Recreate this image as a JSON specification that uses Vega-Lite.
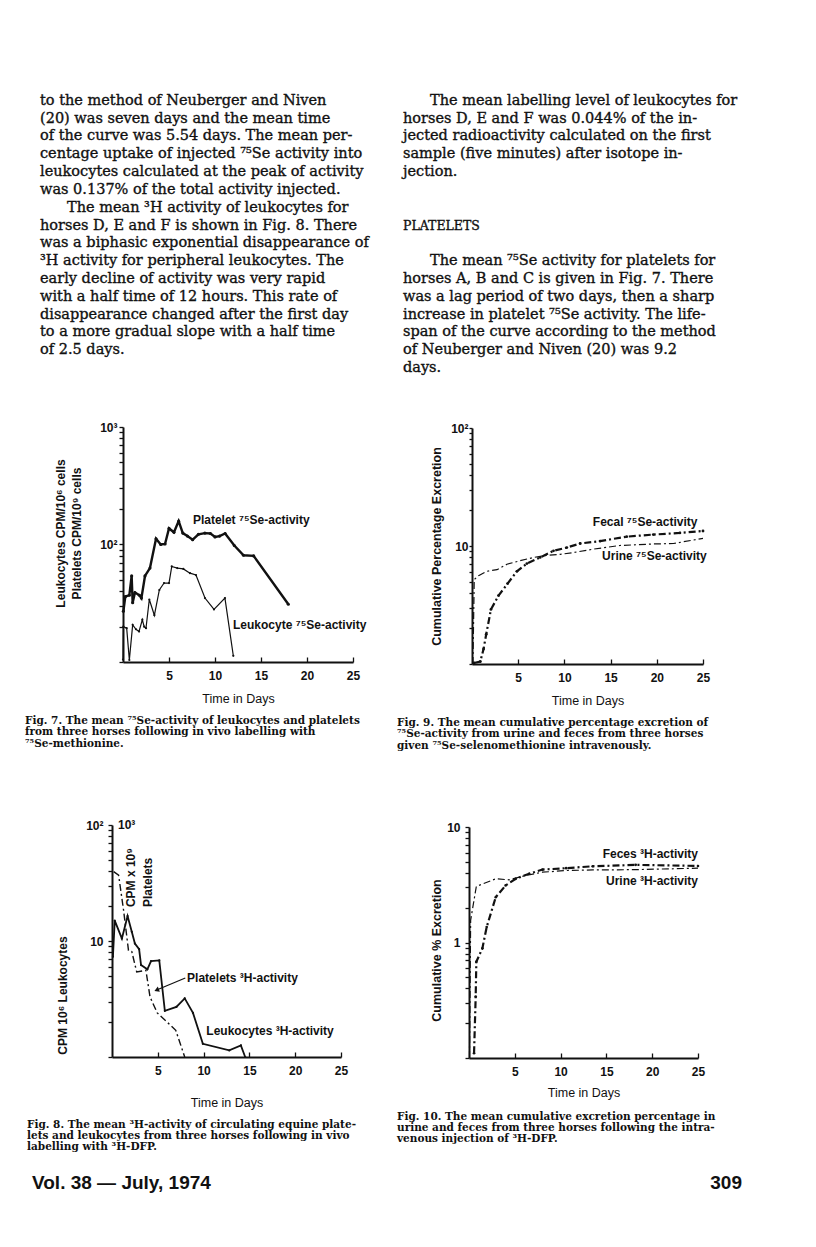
{
  "$schema": "https://vega.github.io/schema/vega-lite/v6.json",
  "background": "white",
  "autosize": {"type": "pad"},
  "padding": {"left": 25, "top": 83, "right": 10, "bottom": 10},
  "spacing": 0,
  "bounds": "flush",
  "config": {
    "view": {"stroke": null},
    "axis": {"grid": false, "domainColor": "#111", "tickColor": "#111", "labelColor": "#111", "titleColor": "#111", "labelFont": "Liberation Sans", "titleFont": "Liberation Sans", "labelFontSize": 12, "labelFontWeight": "bold", "titleFontSize": 12, "titleFontWeight": "bold", "domainWidth": 2, "tickWidth": 1.3, "labelFlush": false, "labelOverlap": false},
    "text": {"font": "Liberation Sans", "fontSize": 12, "fontWeight": "bold", "color": "#111"},
    "line": {"color": "#111"}
  },
  "vconcat": [
    {
      "width": 363, "height": 285,
      "data": {"values": [
        {"column": "left", "line": 0, "kind": "body", "indent": false, "text": "to the method of Neuberger and Niven"},
        {"column": "left", "line": 1, "kind": "body", "indent": false, "text": "(20) was seven days and the mean time"},
        {"column": "left", "line": 2, "kind": "body", "indent": false, "text": "of the curve was 5.54 days. The mean per-"},
        {"column": "left", "line": 3, "kind": "body", "indent": false, "text": "centage uptake of injected ⁷⁵Se activity into"},
        {"column": "left", "line": 4, "kind": "body", "indent": false, "text": "leukocytes calculated at the peak of activity"},
        {"column": "left", "line": 5, "kind": "body", "indent": false, "text": "was 0.137% of the total activity injected."},
        {"column": "left", "line": 6, "kind": "body", "indent": true, "text": "The mean ³H activity of leukocytes for"},
        {"column": "left", "line": 7, "kind": "body", "indent": false, "text": "horses D, E and F is shown in Fig. 8. There"},
        {"column": "left", "line": 8, "kind": "body", "indent": false, "text": "was a biphasic exponential disappearance of"},
        {"column": "left", "line": 9, "kind": "body", "indent": false, "text": "³H activity for peripheral leukocytes. The"},
        {"column": "left", "line": 10, "kind": "body", "indent": false, "text": "early decline of activity was very rapid"},
        {"column": "left", "line": 11, "kind": "body", "indent": false, "text": "with a half time of 12 hours. This rate of"},
        {"column": "left", "line": 12, "kind": "body", "indent": false, "text": "disappearance changed after the first day"},
        {"column": "left", "line": 13, "kind": "body", "indent": false, "text": "to a more gradual slope with a half time"},
        {"column": "left", "line": 14, "kind": "body", "indent": false, "text": "of 2.5 days."},
        {"column": "right", "line": 0, "kind": "body", "indent": true, "text": "The mean labelling level of leukocytes for"},
        {"column": "right", "line": 1, "kind": "body", "indent": false, "text": "horses D, E and F was 0.044% of the in-"},
        {"column": "right", "line": 2, "kind": "body", "indent": false, "text": "jected radioactivity calculated on the first"},
        {"column": "right", "line": 3, "kind": "body", "indent": false, "text": "sample (five minutes) after isotope in-"},
        {"column": "right", "line": 4, "kind": "body", "indent": false, "text": "jection."},
        {"column": "right", "line": 7, "kind": "head", "indent": false, "text": "PLATELETS"},
        {"column": "right", "line": 9, "kind": "body", "indent": true, "text": "The mean ⁷⁵Se activity for platelets for"},
        {"column": "right", "line": 10, "kind": "body", "indent": false, "text": "horses A, B and C is given in Fig. 7. There"},
        {"column": "right", "line": 11, "kind": "body", "indent": false, "text": "was a lag period of two days, then a sharp"},
        {"column": "right", "line": 12, "kind": "body", "indent": false, "text": "increase in platelet ⁷⁵Se activity. The life-"},
        {"column": "right", "line": 13, "kind": "body", "indent": false, "text": "span of the curve according to the method"},
        {"column": "right", "line": 14, "kind": "body", "indent": false, "text": "of Neuberger and Niven (20) was 9.2"},
        {"column": "right", "line": 15, "kind": "body", "indent": false, "text": "days."}
      ]},
      "encoding": {
        "x": {"field": "column", "type": "nominal", "scale": {"type": "point", "domain": ["left", "right"], "padding": 0}, "axis": null},
        "y": {"field": "line", "type": "quantitative", "scale": {"domain": [-1, 15], "reverse": true, "nice": false, "zero": false}, "axis": null},
        "text": {"field": "text"},
        "size": {"condition": {"test": "datum.kind === 'head'", "value": 12.5}, "value": 14.5}
      },
      "layer": [
        {
          "transform": [{"filter": "!datum.indent"}],
          "mark": {"type": "text", "align": "left", "baseline": "middle", "font": "DejaVu Serif", "fontWeight": "normal", "color": "#111", "stroke": "#111", "strokeWidth": 0.35}
        },
        {
          "transform": [{"filter": "datum.indent"}],
          "mark": {"type": "text", "align": "left", "baseline": "middle", "dx": 27, "font": "DejaVu Serif", "fontWeight": "normal", "color": "#111", "stroke": "#111", "strokeWidth": 0.35}
        }
      ]
    },
    {"width": 1, "height": 59, "data": {"values": [{}]}, "mark": {"type": "point", "opacity": 0}, "encoding": {}},
    {
      "spacing": 0,
      "bounds": "flush",
      "hconcat": [
        {"width": 83, "height": 1, "data": {"values": [{}]}, "mark": {"type": "point", "opacity": 0}, "encoding": {}},
        {
          "width": 230, "height": 235,
          "title": {"text": ["Fig. 7. The mean ⁷⁵Se-activity of leukocytes and platelets", "from three horses following in vivo labelling with", "⁷⁵Se-methionine."], "orient": "bottom", "anchor": "start", "frame": "group", "dx": -98, "offset": 11, "font": "DejaVu Serif", "fontSize": 10.5, "fontWeight": "bold", "lineHeight": 11.5, "color": "#111"},
          "encoding": {
            "x": {"field": "day", "type": "quantitative", "scale": {"domain": [0, 25], "nice": false, "zero": false}, "axis": {"values": [5, 10, 15, 20, 25], "title": "Time in Days", "titleFontWeight": "normal", "titleFontSize": 12.5, "tickSize": -5, "labelPadding": 13, "titlePadding": 11}},
            "y": {"field": "val", "type": "quantitative", "scale": {"type": "log", "domain": [10, 1000], "nice": false}, "axis": {"values": [10, 20, 30, 40, 50, 60, 70, 80, 90, 100, 200, 300, 400, 500, 600, 700, 800, 900, 1000], "labelExpr": "datum.value == 1000 ? '10³' : datum.value == 100 ? '10²' : ''", "tickSize": 4, "labelPadding": 2, "title": ["Leukocytes  CPM/10⁶  cells", "Platelets  CPM/10⁹  cells"], "titleX": -63, "titleY": 106, "titleAngle": 270, "titleAlign": "center", "titleBaseline": "middle", "titleLineHeight": 16}}
          },
          "layer": [
            {
              "data": {"values": [
                {"series": "Platelet", "day": 0.04, "val": 27}, {"series": "Platelet", "day": 0.25, "val": 36}, {"series": "Platelet", "day": 0.69, "val": 37}, {"series": "Platelet", "day": 0.94, "val": 54}, {"series": "Platelet", "day": 1.05, "val": 32}, {"series": "Platelet", "day": 1.3, "val": 39}, {"series": "Platelet", "day": 1.78, "val": 37}, {"series": "Platelet", "day": 2.0, "val": 35}, {"series": "Platelet", "day": 2.39, "val": 54}, {"series": "Platelet", "day": 2.93, "val": 63}, {"series": "Platelet", "day": 3.59, "val": 112}, {"series": "Platelet", "day": 4.1, "val": 100}, {"series": "Platelet", "day": 4.57, "val": 101}, {"series": "Platelet", "day": 5.0, "val": 137}, {"series": "Platelet", "day": 5.54, "val": 127}, {"series": "Platelet", "day": 6.05, "val": 158}, {"series": "Platelet", "day": 6.5, "val": 125}, {"series": "Platelet", "day": 7.0, "val": 118}, {"series": "Platelet", "day": 7.57, "val": 110}, {"series": "Platelet", "day": 8.2, "val": 122}, {"series": "Platelet", "day": 8.9, "val": 125}, {"series": "Platelet", "day": 9.5, "val": 124}, {"series": "Platelet", "day": 10.0, "val": 116}, {"series": "Platelet", "day": 10.5, "val": 118}, {"series": "Platelet", "day": 11.1, "val": 124}, {"series": "Platelet", "day": 12.1, "val": 98}, {"series": "Platelet", "day": 13.1, "val": 81}, {"series": "Platelet", "day": 14.2, "val": 80}, {"series": "Platelet", "day": 17.97, "val": 31}
              ]},
              "mark": {"type": "line", "color": "#111", "strokeWidth": 2.4, "point": {"filled": true, "size": 10, "color": "#111"}}
            },
            {
              "data": {"values": [
                {"series": "Leukocyte", "day": 0.0, "val": 10.5}, {"series": "Leukocyte", "day": 0.04, "val": 20}, {"series": "Leukocyte", "day": 0.4, "val": 19.4}, {"series": "Leukocyte", "day": 0.69, "val": 10.4}, {"series": "Leukocyte", "day": 1.05, "val": 20.7}, {"series": "Leukocyte", "day": 1.41, "val": 19}, {"series": "Leukocyte", "day": 1.74, "val": 18.2}, {"series": "Leukocyte", "day": 2.1, "val": 22.9}, {"series": "Leukocyte", "day": 2.3, "val": 20}, {"series": "Leukocyte", "day": 2.5, "val": 19.4}, {"series": "Leukocyte", "day": 2.86, "val": 34}, {"series": "Leukocyte", "day": 3.41, "val": 25}, {"series": "Leukocyte", "day": 3.95, "val": 41}, {"series": "Leukocyte", "day": 4.46, "val": 47}, {"series": "Leukocyte", "day": 5.0, "val": 47}, {"series": "Leukocyte", "day": 5.3, "val": 65}, {"series": "Leukocyte", "day": 5.9, "val": 63}, {"series": "Leukocyte", "day": 6.56, "val": 62}, {"series": "Leukocyte", "day": 7.28, "val": 57}, {"series": "Leukocyte", "day": 7.93, "val": 55}, {"series": "Leukocyte", "day": 8.91, "val": 35}, {"series": "Leukocyte", "day": 9.89, "val": 28}, {"series": "Leukocyte", "day": 11.08, "val": 35}, {"series": "Leukocyte", "day": 11.99, "val": 11.3}
              ]},
              "mark": {"type": "line", "color": "#111", "strokeWidth": 1.2, "point": {"filled": true, "size": 5, "color": "#111"}}
            },
            {
              "data": {"values": [
                {"day": 7.6, "val": 162, "label": "Platelet ⁷⁵Se-activity"},
                {"day": 11.96, "val": 20.8, "label": "Leukocyte ⁷⁵Se-activity"}
              ]},
              "mark": {"type": "text", "align": "left", "baseline": "middle"},
              "encoding": {"text": {"field": "label"}}
            }
          ]
        },
        {"width": 119, "height": 1, "data": {"values": [{}]}, "mark": {"type": "point", "opacity": 0}, "encoding": {}},
        {
          "spacing": 0,
          "bounds": "flush",
          "vconcat": [
            {"width": 1, "height": 1, "data": {"values": [{}]}, "mark": {"type": "point", "opacity": 0}, "encoding": {}},
            {
              "width": 231, "height": 236,
              "title": {"text": ["Fig. 9. The mean cumulative percentage excretion of", "⁷⁵Se-activity from urine and feces from three horses", "given ⁷⁵Se-selenomethionine intravenously."], "orient": "bottom", "anchor": "start", "frame": "group", "dx": -75, "offset": 11, "font": "DejaVu Serif", "fontSize": 10.5, "fontWeight": "bold", "lineHeight": 11.5, "color": "#111"},
              "encoding": {
                "x": {"field": "day", "type": "quantitative", "scale": {"domain": [0, 25], "nice": false, "zero": false}, "axis": {"values": [5, 10, 15, 20, 25], "title": "Time in Days", "titleFontWeight": "normal", "titleFontSize": 12.5, "tickSize": -5, "labelPadding": 13, "titlePadding": 11}},
                "y": {"field": "val", "type": "quantitative", "scale": {"type": "log", "domain": [1, 100], "nice": false}, "axis": {"values": [1, 2, 3, 4, 5, 6, 7, 8, 9, 10, 20, 30, 40, 50, 60, 70, 80, 90, 100], "labelExpr": "datum.value == 100 ? '10²' : datum.value == 10 ? '10' : ''", "tickSize": 3, "labelPadding": 1, "title": "Cumulative  Percentage  Excretion", "titleX": -36, "titleY": 118, "titleAngle": 270, "titleAlign": "center", "titleBaseline": "middle", "titleFontSize": 12.5}}
              },
              "layer": [
                {
                  "data": {"values": [
                    {"series": "Fecal", "day": 0.2, "val": 1.02}, {"series": "Fecal", "day": 0.9, "val": 1.05}, {"series": "Fecal", "day": 1.25, "val": 1.34}, {"series": "Fecal", "day": 1.54, "val": 1.79}, {"series": "Fecal", "day": 2.05, "val": 2.9}, {"series": "Fecal", "day": 2.87, "val": 3.8}, {"series": "Fecal", "day": 3.85, "val": 4.8}, {"series": "Fecal", "day": 4.86, "val": 6.1}, {"series": "Fecal", "day": 5.94, "val": 7.1}, {"series": "Fecal", "day": 7.38, "val": 8.0}, {"series": "Fecal", "day": 8.82, "val": 9.1}, {"series": "Fecal", "day": 10.26, "val": 9.7}, {"series": "Fecal", "day": 11.7, "val": 10.5}, {"series": "Fecal", "day": 13.86, "val": 11.0}, {"series": "Fecal", "day": 16.74, "val": 12.0}, {"series": "Fecal", "day": 19.62, "val": 12.5}, {"series": "Fecal", "day": 22.5, "val": 12.9}, {"series": "Fecal", "day": 25, "val": 13.4}
                  ]},
                  "mark": {"type": "line", "color": "#111", "strokeWidth": 2.2, "strokeDash": [7, 3, 2, 3], "point": {"filled": true, "size": 8, "color": "#111"}}
                },
                {
                  "data": {"values": [
                    {"series": "Urine", "day": 0.1, "val": 1.0}, {"series": "Urine", "day": 0.24, "val": 5.2}, {"series": "Urine", "day": 0.71, "val": 5.6}, {"series": "Urine", "day": 1.6, "val": 6.1}, {"series": "Urine", "day": 2.7, "val": 6.3}, {"series": "Urine", "day": 3.78, "val": 7.0}, {"series": "Urine", "day": 5.2, "val": 7.5}, {"series": "Urine", "day": 6.66, "val": 8.0}, {"series": "Urine", "day": 7.9, "val": 8.3}, {"series": "Urine", "day": 9.54, "val": 8.5}, {"series": "Urine", "day": 10.98, "val": 8.8}, {"series": "Urine", "day": 13.1, "val": 9.4}, {"series": "Urine", "day": 16.0, "val": 10.1}, {"series": "Urine", "day": 19.6, "val": 10.4}, {"series": "Urine", "day": 21.8, "val": 10.5}, {"series": "Urine", "day": 25, "val": 11.6}
                  ]},
                  "mark": {"type": "line", "color": "#111", "strokeWidth": 1.2, "strokeDash": [7, 3, 2, 3]}
                },
                {
                  "data": {"values": [
                    {"day": 24.4, "val": 16.1, "label": "Fecal ⁷⁵Se-activity"},
                    {"day": 25.4, "val": 8.3, "label": "Urine ⁷⁵Se-activity"}
                  ]},
                  "mark": {"type": "text", "align": "right", "baseline": "middle"},
                  "encoding": {"text": {"field": "label"}}
                }
              ]
            }
          ]
        }
      ]
    },
    {"width": 1, "height": 398, "data": {"values": [{}]}, "mark": {"type": "point", "opacity": 0}, "encoding": {}},
    {
      "spacing": 0,
      "bounds": "flush",
      "hconcat": [
        {"width": 72, "height": 1, "data": {"values": [{}]}, "mark": {"type": "point", "opacity": 0}, "encoding": {}},
        {
          "width": 229, "height": 232,
          "title": {"text": ["Fig. 8. The mean ³H-activity of circulating equine plate-", "lets and leukocytes from three horses following in vivo", "labelling with ³H-DFP."], "orient": "bottom", "anchor": "start", "frame": "group", "dx": -85, "offset": 11, "font": "DejaVu Serif", "fontSize": 10.5, "fontWeight": "bold", "lineHeight": 11, "color": "#111"},
          "encoding": {
            "x": {"field": "day", "type": "quantitative", "scale": {"domain": [0, 25], "nice": false, "zero": false}, "axis": {"values": [5, 10, 15, 20, 25], "title": "Time in Days", "titleFontWeight": "normal", "titleFontSize": 12.5, "tickSize": -5, "labelPadding": 13, "titlePadding": 20}},
            "y": {"field": "val", "type": "quantitative", "scale": {"type": "log", "domain": [1, 100], "nice": false}, "axis": {"values": [1, 2, 3, 4, 5, 6, 7, 8, 9, 10, 20, 30, 40, 50, 60, 70, 80, 90, 100], "labelExpr": "datum.value == 100 ? '10²' : datum.value == 10 ? '10' : ''", "tickSize": 4, "labelPadding": 5, "title": "CPM  10⁶  Leukocytes", "titleX": -50, "titleY": 170, "titleAngle": 270, "titleAlign": "center", "titleBaseline": "middle"}}
          },
          "layer": [
            {
              "data": {"values": [
                {"series": "Leukocytes", "day": 0.1, "val": 7.3}, {"series": "Leukocytes", "day": 0.3, "val": 15}, {"series": "Leukocytes", "day": 1.08, "val": 10.5}, {"series": "Leukocytes", "day": 1.7, "val": 16.4}, {"series": "Leukocytes", "day": 2.16, "val": 12}, {"series": "Leukocytes", "day": 2.5, "val": 9.5}, {"series": "Leukocytes", "day": 2.96, "val": 8.5}, {"series": "Leukocytes", "day": 3.17, "val": 6.2}, {"series": "Leukocytes", "day": 3.86, "val": 5.7}, {"series": "Leukocytes", "day": 4.26, "val": 6.7}, {"series": "Leukocytes", "day": 5.16, "val": 6.8}, {"series": "Leukocytes", "day": 5.77, "val": 2.5}, {"series": "Leukocytes", "day": 7.03, "val": 2.7}, {"series": "Leukocytes", "day": 7.94, "val": 3.2}, {"series": "Leukocytes", "day": 8.84, "val": 2.4}, {"series": "Leukocytes", "day": 9.92, "val": 1.3}, {"series": "Leukocytes", "day": 12.8, "val": 1.14}, {"series": "Leukocytes", "day": 14.07, "val": 1.26}, {"series": "Leukocytes", "day": 14.54, "val": 1.0}
              ]},
              "mark": {"type": "line", "color": "#111", "strokeWidth": 1.8, "point": {"filled": true, "size": 5, "color": "#111"}}
            },
            {
              "data": {"values": [
                {"series": "Platelets", "day": 0.18, "val": 39.6}, {"series": "Platelets", "day": 0.72, "val": 37}, {"series": "Platelets", "day": 1.26, "val": 18.5}, {"series": "Platelets", "day": 1.8, "val": 8.3}, {"series": "Platelets", "day": 2.16, "val": 8.1}, {"series": "Platelets", "day": 2.7, "val": 5.4}, {"series": "Platelets", "day": 3.7, "val": 5.6}, {"series": "Platelets", "day": 4.15, "val": 3.3}, {"series": "Platelets", "day": 4.94, "val": 2.4}, {"series": "Platelets", "day": 6.31, "val": 1.9}, {"series": "Platelets", "day": 6.96, "val": 1.7}, {"series": "Platelets", "day": 7.94, "val": 1.0}
              ]},
              "mark": {"type": "line", "color": "#111", "strokeWidth": 1.4, "strokeDash": [7, 3, 2, 3]}
            },
            {
              "data": {"values": [
                {"day": 8.2, "val": 4.8, "label": "Platelets ³H-activity"},
                {"day": 10.3, "val": 1.68, "label": "Leukocytes ³H-activity"},
                {"day": 0.65, "val": 100, "label": "10³"}
              ]},
              "mark": {"type": "text", "align": "left", "baseline": "middle"},
              "encoding": {"text": {"field": "label"}}
            },
            {
              "data": {"values": [
                {"day": 2.06, "val": 19.6, "label": "CPM x 10⁹"},
                {"day": 3.9, "val": 19.6, "label": "Platelets"}
              ]},
              "mark": {"type": "text", "align": "left", "baseline": "middle", "angle": 270},
              "encoding": {"text": {"field": "label"}}
            },
            {
              "data": {"values": [{"day": 8.0, "val": 4.8, "day2": 4.87, "val2": 3.78}]},
              "mark": {"type": "rule", "color": "#111", "strokeWidth": 1.2},
              "encoding": {"x2": {"field": "day2"}, "y2": {"field": "val2"}}
            },
            {
              "data": {"values": [{"day": 4.87, "val": 3.78}]},
              "mark": {"type": "point", "shape": "triangle-left", "filled": true, "size": 30, "angle": 338, "color": "#111", "opacity": 1}
            }
          ]
        },
        {"width": 128, "height": 1, "data": {"values": [{}]}, "mark": {"type": "point", "opacity": 0}, "encoding": {}},
        {
          "spacing": 0,
          "bounds": "flush",
          "vconcat": [
            {"width": 1, "height": 2, "data": {"values": [{}]}, "mark": {"type": "point", "opacity": 0}, "encoding": {}},
            {
              "width": 229, "height": 231,
              "title": {"text": ["Fig. 10. The mean cumulative excretion percentage in", "urine and feces from three horses following the intra-", "venous injection of ³H-DFP."], "orient": "bottom", "anchor": "start", "frame": "group", "dx": -72, "offset": 13, "font": "DejaVu Serif", "fontSize": 10.5, "fontWeight": "bold", "lineHeight": 11, "color": "#111"},
              "encoding": {
                "x": {"field": "day", "type": "quantitative", "scale": {"domain": [0, 25], "nice": false, "zero": false}, "axis": {"values": [5, 10, 15, 20, 25], "title": "Time in Days", "titleFontWeight": "normal", "titleFontSize": 12.5, "tickSize": -5, "labelPadding": 13, "titlePadding": 9}},
                "y": {"field": "val", "type": "quantitative", "scale": {"type": "log", "domain": [0.1, 10], "nice": false}, "axis": {"values": [0.1, 0.2, 0.3, 0.4, 0.5, 0.6, 0.7, 0.8, 0.9, 1, 2, 3, 4, 5, 6, 7, 8, 9, 10], "labelExpr": "datum.value == 10 ? '10' : datum.value == 1 ? '1' : ''", "tickSize": 4, "labelPadding": 5, "title": "Cumulative  %  Excretion", "titleX": -33, "titleY": 123, "titleAngle": 270, "titleAlign": "center", "titleBaseline": "middle", "titleFontSize": 12.5}}
              },
              "layer": [
                {
                  "data": {"values": [
                    {"series": "Feces", "day": 0.55, "val": 0.11}, {"series": "Feces", "day": 0.73, "val": 0.34}, {"series": "Feces", "day": 0.8, "val": 0.68}, {"series": "Feces", "day": 1.46, "val": 0.89}, {"series": "Feces", "day": 1.93, "val": 1.36}, {"series": "Feces", "day": 2.92, "val": 2.47}, {"series": "Feces", "day": 4.0, "val": 3.12}, {"series": "Feces", "day": 5.1, "val": 3.56}, {"series": "Feces", "day": 6.57, "val": 3.94}, {"series": "Feces", "day": 8.03, "val": 4.28}, {"series": "Feces", "day": 10.6, "val": 4.4}, {"series": "Feces", "day": 13.5, "val": 4.57}, {"series": "Feces", "day": 18.2, "val": 4.7}, {"series": "Feces", "day": 25, "val": 4.6}
                  ]},
                  "mark": {"type": "line", "color": "#111", "strokeWidth": 2.2, "strokeDash": [7, 3, 2, 3], "point": {"filled": true, "size": 7, "color": "#111"}}
                },
                {
                  "data": {"values": [
                    {"series": "Urine", "day": 0.05, "val": 0.1}, {"series": "Urine", "day": 0.18, "val": 1.56}, {"series": "Urine", "day": 0.8, "val": 3.06}, {"series": "Urine", "day": 2.92, "val": 3.56}, {"series": "Urine", "day": 4.38, "val": 3.49}, {"series": "Urine", "day": 6.2, "val": 3.8}, {"series": "Urine", "day": 8.0, "val": 4.06}, {"series": "Urine", "day": 10.6, "val": 4.2}, {"series": "Urine", "day": 13.5, "val": 4.25}, {"series": "Urine", "day": 17.9, "val": 4.27}, {"series": "Urine", "day": 25, "val": 4.4}
                  ]},
                  "mark": {"type": "line", "color": "#111", "strokeWidth": 1.2, "strokeDash": [7, 3, 2, 3]}
                },
                {
                  "data": {"values": [
                    {"day": 25, "val": 5.85, "label": "Feces ³H-activity"},
                    {"day": 25, "val": 3.42, "label": "Urine ³H-activity"}
                  ]},
                  "mark": {"type": "text", "align": "right", "baseline": "middle"},
                  "encoding": {"text": {"field": "label"}}
                }
              ]
            }
          ]
        }
      ]
    },
    {"width": 1, "height": 354, "data": {"values": [{}]}, "mark": {"type": "point", "opacity": 0}, "encoding": {}},
    {
      "width": 702, "height": 20,
      "encoding": {
        "x": {"field": "side", "type": "nominal", "scale": {"type": "point", "domain": ["left", "right"], "padding": 0}, "axis": null},
        "text": {"field": "text"}
      },
      "layer": [
        {"data": {"values": [{"side": "left", "text": "Vol. 38 — July, 1974"}]}, "mark": {"type": "text", "align": "left", "baseline": "alphabetic", "fontSize": 19, "fontWeight": "bold", "dx": -8}},
        {"data": {"values": [{"side": "right", "text": "309"}]}, "mark": {"type": "text", "align": "right", "baseline": "alphabetic", "fontSize": 19, "fontWeight": "bold"}}
      ]
    }
  ]
}
